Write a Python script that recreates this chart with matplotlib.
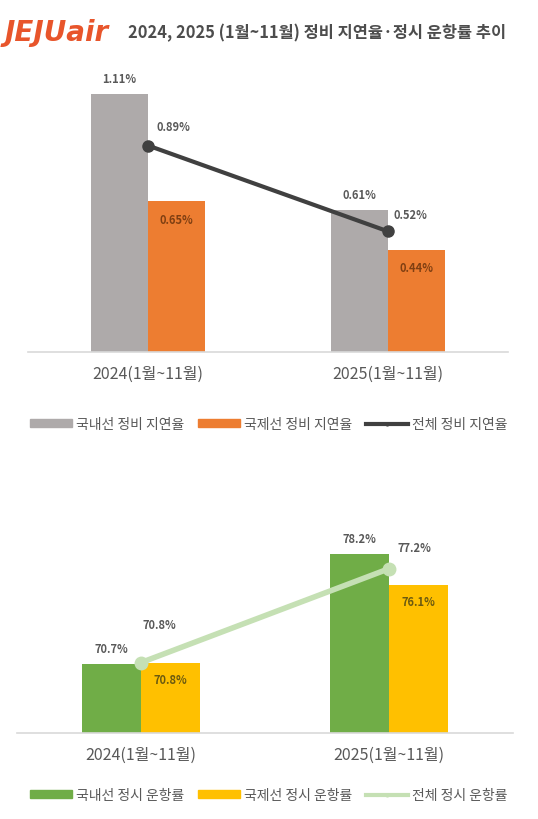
import matplotlib
matplotlib.use("Agg")
import matplotlib.pyplot as plt
from matplotlib.lines import Line2D
from matplotlib.patches import Patch

plt.rcParams['font.family'] = ['Noto Sans CJK KR', 'DejaVu Sans']

# data
periods = ["2024(1월~11월)", "2025(1월~11월)"]

delay_dom = [1.11, 0.61]
delay_intl = [0.65, 0.44]
delay_all = [0.89, 0.52]
delay_names = ["국내선 정비 지연율", "국제선 정비 지연율", "전체 정비 지연율"]

ontime_dom = [70.7, 78.2]
ontime_intl = [70.8, 76.1]
ontime_all = [70.8, 77.2]
ontime_names = ["국내선 정시 운항률", "국제선 정시 운항률", "전체 정시 운항률"]

W, H = 538, 820
fig = plt.figure(figsize=(W / 100, H / 100), dpi=100)
TXT = "#595959"


def px_axes(left, top, width, height):
    return fig.add_axes([left / W, 1 - (top + height) / H, width / W, height / H])


def style(ax):
    for s in ["top", "right", "left"]:
        ax.spines[s].set_visible(False)
    ax.spines["bottom"].set_color("#d9d9d9")
    ax.spines["bottom"].set_linewidth(1.2)
    ax.set_yticks([])
    ax.set_xlim(-0.5, 1.5)
    ax.set_xticks(range(len(periods)))
    ax.set_xticklabels(periods, fontsize=11.5, color=TXT)
    ax.tick_params(axis="x", length=0, pad=9)


def label(ax, x, y, text, dx, dy, color=TXT):
    ax.annotate(text, (x, y), xytext=(dx, dy), textcoords="offset pixels",
                ha="center", va="center", fontsize=8, color=color,
                fontweight="semibold")


x = list(range(len(periods)))
bw = 0.238

# title
fig.text(5 / W, 1 - 33 / H, "JEJUair", fontsize=20, fontweight="bold",
         fontstyle="italic", color="#e8552b", va="center", ha="left",
         family="DejaVu Sans")
fig.text(128 / W, 1 - 33 / H, "2024, 2025 (1월~11월) 정비 지연율·정시 운항률 추이",
         fontsize=11.8, fontweight="bold", color="#4d4d4d", va="center", ha="left")

# ---- top chart: maintenance delay rate
ax1 = px_axes(28, 353 - 1.2 * 232, 480, 1.2 * 232)
style(ax1)
ax1.set_ylim(0, 1.2)
ax1.bar([i - bw / 2 for i in x], delay_dom, bw, color="#aeaaaa")
ax1.bar([i + bw / 2 for i in x], delay_intl, bw, color="#ed7d31")
ax1.plot(x, delay_all, color="#404040", lw=3, marker="o", ms=8, zorder=3)
for i in x:
    label(ax1, i - bw / 2, delay_dom[i], f"{delay_dom[i]:.2f}%", 0, 16)
    label(ax1, i + bw / 2, delay_intl[i], f"{delay_intl[i]:.2f}%", 0, -18, "#7f3f12")
label(ax1, 0, delay_all[0], f"{delay_all[0]:.2f}%", 25, 19)
label(ax1, 1, delay_all[1], f"{delay_all[1]:.2f}%", 22, 17)

h1 = [Patch(color="#aeaaaa"), Patch(color="#ed7d31"),
      Line2D([], [], color="#404040", lw=3, marker="o", ms=2)]
fig.legend(h1, delay_names, loc="center", bbox_to_anchor=(0.5, 1 - 425 / H),
           ncol=3, frameon=False, fontsize=10, labelcolor=TXT,
           handlelength=3.0, handleheight=0.5, handletextpad=0.3,
           columnspacing=1.0)

# ---- bottom chart: on-time rate
ax2 = px_axes(17, 734 - 14 * 14.67, 496, 14 * 14.67)
style(ax2)
ax2.set_ylim(66, 80)
ax2.bar([i - bw / 2 for i in x], ontime_dom, bw, color="#70ad47")
ax2.bar([i + bw / 2 for i in x], ontime_intl, bw, color="#ffc000")
ax2.plot(x, ontime_all, color="#c5e0b4", lw=4, marker="o", ms=9, zorder=3)
for i in x:
    label(ax2, i - bw / 2, ontime_dom[i], f"{ontime_dom[i]:.1f}%", 0, 16)
    label(ax2, i + bw / 2, ontime_intl[i], f"{ontime_intl[i]:.1f}%", 0, -17, "#6b5a10")
label(ax2, 0, ontime_all[0], f"{ontime_all[0]:.1f}%", 18, 38)
label(ax2, 1, ontime_all[1], f"{ontime_all[1]:.1f}%", 25, 21)

h2 = [Patch(color="#70ad47"), Patch(color="#ffc000"),
      Line2D([], [], color="#c5e0b4", lw=3, marker="o", ms=2)]
fig.legend(h2, ontime_names, loc="center", bbox_to_anchor=(0.5, 1 - 796 / H),
           ncol=3, frameon=False, fontsize=10, labelcolor=TXT,
           handlelength=3.0, handleheight=0.5, handletextpad=0.3,
           columnspacing=1.0)

fig.savefig("out.png", dpi=100)
